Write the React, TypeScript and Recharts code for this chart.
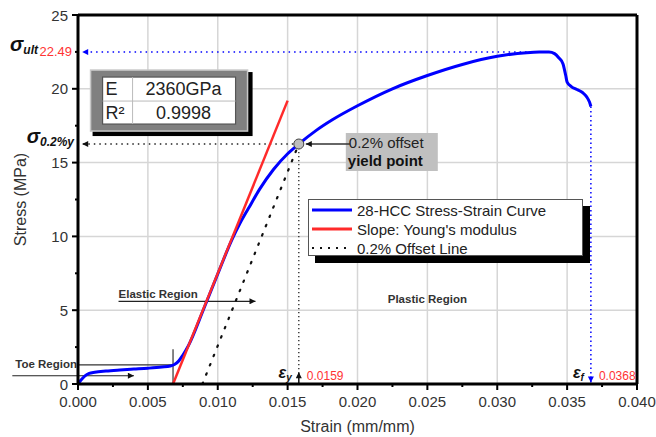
import { ComposedChart, Line, XAxis, YAxis, ReferenceLine, ReferenceDot, Legend, Label } from "recharts";

// strain (mm/mm) / stress (MPa)
const curveStrain = [
  0, 0.0002, 0.0005, 0.0008, 0.0012, 0.002, 0.003, 0.004, 0.005, 0.006, 0.0066, 0.0069, 0.0072, 0.0075, 0.0079,
  0.009, 0.01, 0.011, 0.0116, 0.0122, 0.013, 0.014, 0.015, 0.0158, 0.017, 0.0182, 0.02, 0.0225, 0.025, 0.0275,
  0.03, 0.0321, 0.033, 0.0337, 0.0341, 0.0344, 0.0347, 0.0349, 0.035, 0.0353, 0.0357, 0.0361, 0.0364, 0.0366, 0.0367,
];
const curveStress = [
  0, 0.25, 0.55, 0.72, 0.8, 0.88, 0.95, 1.01, 1.07, 1.15, 1.22, 1.32, 1.55, 1.95, 2.6,
  5.1, 7.45, 9.75, 10.9, 11.9, 13.2, 14.55, 15.6, 16.26, 17.15, 17.9, 18.85, 20.0, 20.9, 21.65,
  22.2, 22.45, 22.49, 22.49, 22.38, 22.1, 21.7, 20.9, 20.45, 20.15, 19.95, 19.75, 19.45, 19.1, 18.8,
];

// fitted Young's modulus line and 0.2% offset line
const modulusStrain = [0.0068, 0.015];
const modulusStress = [0, 19.2];
const offsetStrain = [0.0089, 0.0158];
const offsetStress = [0, 16.26];

// key points
const yieldStrain = 0.0158;
const yieldStress = 16.26;
const ultStress = 22.49;
const ultStrainStart = 0.0321;
const fractureStrain = 0.0367;
const fractureStress = 18.8;
const toeEndStrain = 0.0068;
const toeEndStress = 1.29;

const yieldLabel = "0.0159";
const fractureLabel = "0.0368";
const modulusLabel = "2360GPa";
const r2Label = "0.9998";

const majorX = [0, 0.005, 0.01, 0.015, 0.02, 0.025, 0.03, 0.035, 0.04];
const minorX = [0.0025, 0.0075, 0.0125, 0.0175, 0.0225, 0.0275, 0.0325, 0.0375];
const majorY = [0, 5, 10, 15, 20, 25];
const minorY = [2.5, 7.5, 12.5, 17.5, 22.5];

const zip = (xs: number[], ys: number[]) => xs.map((x, i) => ({ x, y: ys[i] }));

const SERIES = [
  { name: "28-HCC Stress-Strain Curve", data: zip(curveStrain, curveStress), color: "#0000ff", width: 3, dash: undefined as string | undefined },
  { name: "Slope: Young's modulus", data: zip(modulusStrain, modulusStress), color: "#ff2a2a", width: 2.5, dash: undefined },
  { name: "0.2% Offset Line", data: zip(offsetStrain, offsetStress), color: "#111", width: 2.2, dash: "1.5 8.5" },
];

const FONT = "'Liberation Sans', Arial, sans-serif";
const TICK_SIZE = 6;
const TICK_MARGIN = 4;
const near = (arr: number[], v: number) => arr.some((a) => Math.abs(a - v) < 1e-9);

const XTick = (props: any) => {
  const { x, y, payload } = props;
  const axisY = y - TICK_SIZE - TICK_MARGIN;
  const major = near(majorX, payload.value);
  return (
    <g>
      <line x1={x} x2={x} y1={axisY} y2={axisY + (major ? 6 : 3)} stroke="#000" strokeWidth={2} />
      {major && (
        <text x={x} y={axisY + 23} textAnchor="middle" fontSize={15} fill="#333" fontFamily={FONT}>
          {payload.value.toFixed(3)}
        </text>
      )}
    </g>
  );
};

const YTick = (props: any) => {
  const { x, y, payload } = props;
  const axisX = x + TICK_SIZE + TICK_MARGIN;
  const major = near(majorY, payload.value);
  return (
    <g>
      <line x1={axisX} x2={axisX - (major ? 6 : 3)} y1={y} y2={y} stroke="#000" strokeWidth={2} />
      {major && (
        <text x={axisX - 10} y={y + 5.5} textAnchor="end" fontSize={15} fill="#333" fontFamily={FONT}>
          {payload.value}
        </text>
      )}
    </g>
  );
};

const arrowShape = (color: string, width: number, dash?: string, marker?: string) => (p: any) => (
  <line
    x1={p.x1}
    y1={p.y1}
    x2={p.x2}
    y2={p.y2}
    stroke={color}
    strokeWidth={width}
    strokeDasharray={dash}
    markerEnd={marker ? `url(#${marker})` : undefined}
  />
);

const smallBold = { fontFamily: FONT, fontSize: 11.5, fontWeight: 700, fill: "#333" };

const textShape = (text: string, dx: number, dy: number, anchor: string, style: any) => (p: any) => (
  <text x={p.cx + dx} y={p.cy + dy} textAnchor={anchor} {...style}>
    {text}
  </text>
);

const sigmaShape = (sub: string, value: string | null) => (p: any) => (
  <g fontFamily={FONT}>
    {value && (
      <text x={p.cx - 6} y={p.cy + 4} textAnchor="end" fontSize={13} fill="#ff3333">
        {value}
      </text>
    )}
    <text x={value ? p.cx - 40 : p.cx - 4} y={p.cy - 1} textAnchor="end" fill="#111" fontWeight={700} fontStyle="italic">
      <tspan fontSize={20}>σ</tspan>
      <tspan fontSize={12} dy={3}>{sub}</tspan>
    </text>
  </g>
);

const statsShape = (p: any) => {
  const x = p.cx;
  const y = p.cy;
  return (
    <g fontFamily={FONT}>
      <rect x={x + 2} y={y + 2} width={160} height={64} fill="#000" />
      <rect x={x} y={y} width={157} height={61} fill="#808080" stroke="#c8c8c8" strokeWidth={1.5} />
      <rect x={x + 12} y={y + 7} width={133} height={47} fill="#fff" stroke="#555" strokeWidth={1.2} />
      <line x1={x + 42} x2={x + 42} y1={y + 7} y2={y + 54} stroke="#bbb" />
      <line x1={x + 12} x2={x + 145} y1={y + 31} y2={y + 31} stroke="#bbb" />
      <text x={x + 15} y={y + 25} fontSize={18} fill="#222">E</text>
      <text x={x + 93} y={y + 25} fontSize={18} fill="#222" textAnchor="middle">{modulusLabel}</text>
      <text x={x + 15} y={y + 49} fontSize={18} fill="#222">R²</text>
      <text x={x + 93} y={y + 49} fontSize={18} fill="#222" textAnchor="middle">{r2Label}</text>
    </g>
  );
};

const yieldShape = (p: any) => (
  <g fontFamily={FONT}>
    <rect x={p.cx + 47} y={p.cy - 11} width={92} height={38} fill="#c0c0c0" />
    <line x1={p.cx + 51} y1={p.cy} x2={p.cx + 7} y2={p.cy} stroke="#333" strokeWidth={1.5} markerEnd="url(#ahBlack)" />
    <circle cx={p.cx} cy={p.cy} r={5} fill="#bdbdbd" stroke="#444" strokeWidth={1} />
    <text x={p.cx + 50} y={p.cy + 4} fontSize={15} fill="#222">0.2% offset</text>
    <text x={p.cx + 49} y={p.cy + 22} fontSize={15} fontWeight={700} fill="#111">yield point</text>
  </g>
);

const epsShape = (sub: string, value: string) => (p: any) => (
  <g fontFamily={FONT}>
    <text x={p.cx - 7} y={p.cy + 3} textAnchor="end" fill="#111" fontWeight={700} fontStyle="italic">
      <tspan fontSize={16}>ε</tspan>
      <tspan fontSize={10} dy={3}>{sub}</tspan>
    </text>
    <text x={p.cx + 8} y={p.cy + 5} fontSize={12} fill="#ff3333">{value}</text>
  </g>
);

const renderLegend = () => (
  <div style={{ position: "relative", width: 282, height: 64, fontFamily: FONT }}>
    <div style={{ position: "absolute", left: 7, top: 7, width: 275, height: 57, background: "#000" }} />
    <div
      style={{
        position: "absolute",
        left: 0,
        top: 0,
        width: 273,
        height: 55,
        background: "#fff",
        border: "1px solid #555",
      }}
    >
      {SERIES.map((s, i) => (
        <div key={s.name} style={{ position: "absolute", left: 3, top: 1 + i * 19, height: 18, display: "flex", alignItems: "center" }}>
          <svg width={40} height={6}>
            <line x1={0} x2={40} y1={3} y2={3} stroke={s.color} strokeWidth={s.dash ? 2 : 3} strokeDasharray={s.dash ? "2 6" : undefined} />
          </svg>
          <span style={{ marginLeft: 5, fontSize: 15, color: "#222", whiteSpace: "nowrap" }}>{s.name}</span>
        </div>
      ))}
    </div>
  </div>
);

export default function App() {
  return (
    <div style={{ position: "absolute", left: 0, top: 0, width: 656, height: 437, background: "#fff" }}>
      <svg width={0} height={0} style={{ position: "absolute" }}>
        <defs>
          <marker id="ahBlack" viewBox="0 0 10 10" refX="10" refY="5" markerWidth="8" markerHeight="6" markerUnits="userSpaceOnUse" orient="auto">
            <path d="M0,0 L10,5 L0,10 z" fill="#111" />
          </marker>
          <marker id="ahBlue" viewBox="0 0 10 10" refX="10" refY="5" markerWidth="9" markerHeight="6" markerUnits="userSpaceOnUse" orient="auto">
            <path d="M0,0 L10,5 L0,10 z" fill="#0000ff" />
          </marker>
        </defs>
      </svg>
      <ComposedChart width={656} height={437} margin={{ top: 15, right: 19, bottom: 0, left: 0 }}>
        <XAxis
          type="number"
          dataKey="x"
          domain={[0, 0.04]}
          ticks={[...majorX, ...minorX].sort((a, b) => a - b)}
          interval={0}
          allowDataOverflow
          height={53}
          tickSize={TICK_SIZE}
          tickMargin={TICK_MARGIN}
          tickLine={false}
          tick={XTick}
          axisLine={{ stroke: "#000", strokeWidth: 3 }}
        >
          <Label
            content={(p: any) => (
              <text x={p.viewBox.x + p.viewBox.width / 2} y={432} textAnchor="middle" fontSize={16} fill="#333" fontFamily={FONT}>
                Strain (mm/mm)
              </text>
            )}
          />
        </XAxis>
        <YAxis
          type="number"
          domain={[0, 25]}
          ticks={[...majorY, ...minorY].sort((a, b) => a - b)}
          interval={0}
          allowDataOverflow
          width={78}
          tickSize={TICK_SIZE}
          tickMargin={TICK_MARGIN}
          tickLine={false}
          tick={YTick}
          axisLine={{ stroke: "#000", strokeWidth: 3 }}
        >
          <Label
            content={(p: any) => {
              const cy = p.viewBox.y + p.viewBox.height / 2;
              return (
                <text x={20} y={cy} dy="0.35em" transform={`rotate(-90, 20, ${cy})`} textAnchor="middle" fontSize={16} fill="#333" fontFamily={FONT}>
                  Stress (MPa)
                </text>
              );
            }}
          />
        </YAxis>

        {majorX.slice(1, -1).map((v) => (
          <ReferenceLine key={`gx${v}`} x={v} stroke="#d6d6d6" strokeWidth={1.5} />
        ))}
        {majorY.slice(1, -1).map((v) => (
          <ReferenceLine key={`gy${v}`} y={v} stroke="#d6d6d6" strokeWidth={1.5} />
        ))}
        <ReferenceLine y={25} stroke="#000" strokeWidth={3} />
        <ReferenceLine x={0.04} stroke="#000" strokeWidth={3} />

        {/* guide lines */}
        <ReferenceLine
          segment={[{ x: ultStrainStart, y: ultStress }, { x: 0.0003, y: ultStress }]}
          shape={arrowShape("#0000ff", 1.5, "1.5 4", "ahBlue")}
        />
        <ReferenceLine
          segment={[{ x: fractureStrain, y: fractureStress }, { x: fractureStrain, y: 0.1 }]}
          shape={arrowShape("#0000ff", 1.5, "1.5 3", "ahBlue")}
        />
        <ReferenceLine
          segment={[{ x: yieldStrain, y: yieldStress }, { x: 0.0003, y: yieldStress }]}
          shape={arrowShape("#222", 1.5, "1.5 4", "ahBlack")}
        />
        <ReferenceLine segment={[{ x: yieldStrain, y: yieldStress }, { x: yieldStrain, y: 0.9 }]} shape={arrowShape("#222", 1.3, "1.3 2.7")} />
        <ReferenceLine segment={[{ x: yieldStrain, y: 0 }, { x: yieldStrain, y: 0.8 }]} shape={arrowShape("#111", 1.5, undefined, "ahBlack")} />
        <ReferenceLine segment={[{ x: 0, y: toeEndStress }, { x: toeEndStrain, y: toeEndStress }]} stroke="#333" strokeWidth={1.2} />
        <ReferenceLine segment={[{ x: toeEndStrain, y: 0 }, { x: toeEndStrain, y: 2.35 }]} stroke="#333" strokeWidth={1.2} />
        <ReferenceLine
          segment={[{ x: -0.0047, y: 0.56 }, { x: 0.004, y: 0.56 }]}
          ifOverflow="visible"
          shape={arrowShape("#222", 1.2, undefined, "ahBlack")}
        />
        <ReferenceLine segment={[{ x: 0.0029, y: 5.6 }, { x: 0.0127, y: 5.6 }]} shape={arrowShape("#222", 1.2, undefined, "ahBlack")} />

        {SERIES.map((s) => (
          <Line
            key={s.name}
            data={s.data}
            dataKey="y"
            name={s.name}
            type={s.dash ? "linear" : "monotone"}
            stroke={s.color}
            strokeWidth={s.width}
            strokeDasharray={s.dash}
            strokeLinecap={s.dash ? "round" : "butt"}
            dot={false}
            activeDot={false}
            isAnimationActive={false}
          />
        ))}

        <ReferenceDot x={0.0009} y={21.27} r={0} shape={statsShape} />
        <ReferenceDot x={yieldStrain} y={yieldStress} r={0} shape={yieldShape} />
        <ReferenceDot x={0} y={ultStress} r={0} shape={sigmaShape("ult", "22.49")} />
        <ReferenceDot x={0} y={yieldStress} r={0} shape={sigmaShape("0.2%y", null)} />
        <ReferenceDot x={yieldStrain} y={0.6} r={0} shape={epsShape("y", yieldLabel)} />
        <ReferenceDot x={fractureStrain} y={0.6} r={0} shape={epsShape("f", fractureLabel)} />
        <ReferenceDot x={0.0029} y={5.6} r={0} shape={textShape("Elastic Region", 0, -3, "start", smallBold)} />
        <ReferenceDot x={0} y={toeEndStress} r={0} shape={textShape("Toe Region", -1, 3, "end", smallBold)} />
        <ReferenceDot x={0.025} y={5.75} r={0} shape={textShape("Plastic Region", 0, 4, "middle", smallBold)} />

        <Legend
          layout="vertical"
          align="center"
          verticalAlign="middle"
          content={renderLegend}
          wrapperStyle={{ left: 308, top: 199, width: 282, height: 64 }}
        />
      </ComposedChart>
    </div>
  );
}
